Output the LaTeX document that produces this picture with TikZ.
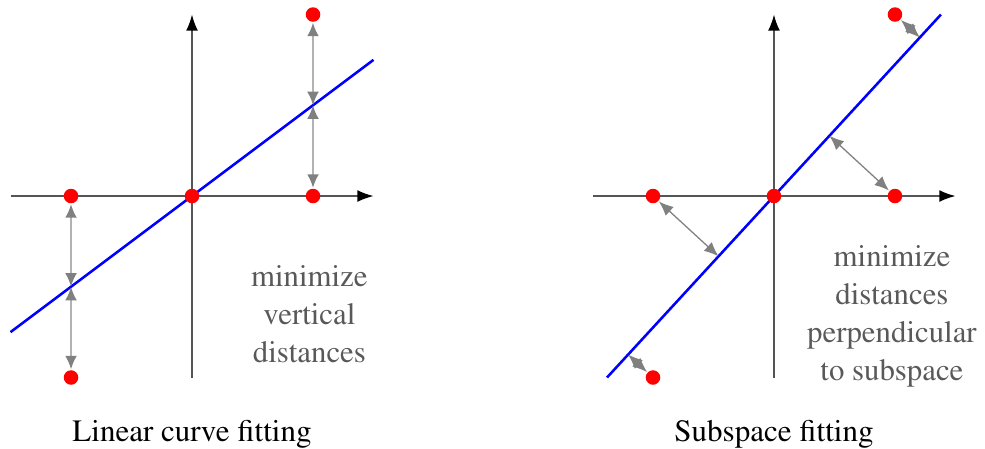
\documentclass[tikz,border=0pt]{standalone}
\usepackage[T1]{fontenc}
\usepackage{times}
\usetikzlibrary{arrows.meta,calc}
\definecolor{txtgray}{HTML}{595959}
\definecolor{axgray}{HTML}{555555}
\begin{document}
\begin{tikzpicture}[
  pt/.style={circle,fill=red,inner sep=0pt,minimum size=0.12cm},
  axisline/.style={draw=axgray,line width=0.35pt,-{Latex[length=3.8pt,width=2.8pt,color=black]}},
  fitline/.style={draw=blue,line width=0.6pt},
  vdist/.style={draw=gray!60,line width=0.5pt,{Latex[length=3.2pt,width=2.8pt,color=gray]}-{Latex[length=3.2pt,width=2.8pt,color=gray]}},
  pdist/.style={draw=gray,line width=0.3pt,{Latex[length=3.4pt,width=2.8pt,color=gray]}-{Latex[length=3.4pt,width=2.8pt,color=gray]}},
  note/.style={text=txtgray,align=center,font=\rmfamily\fontsize{7.25}{8.9}\selectfont},
  captiontext/.style={anchor=base,font=\rmfamily\fontsize{7.3}{9}\selectfont}
]
\useasboundingbox (-1.587,-2.083) rectangle (6.554,1.62);

% ---------- Left: linear curve fitting ----------
\begin{scope}
  \coordinate (lxs) at (-1.5,0);
  \coordinate (lxe) at (1.5,0);
  \coordinate (lys) at (0,-1.5);
  \coordinate (lye) at (0,1.5);
  \draw[axisline] (lxs) -- (lxe);
  \draw[axisline] (lys) -- (lye);
  \coordinate (la) at (-1.5,-1.125);
  \coordinate (lb) at (1.5,1.125);
  \draw[fitline] (la) -- (lb);
  \coordinate (lf1) at (1,0.75);
  \coordinate (lf2) at (-1,-0.75);
  \node[pt] (lp1) at (1,1.5) {};
  \node[pt] (lp2) at (1,0) {};
  \node[pt] (lp3) at (0,0) {};
  \node[pt] (lp4) at (-1,0) {};
  \node[pt] (lp5) at (-1,-1.5) {};
  \draw[vdist] (lp1) -- (lf1);
  \draw[vdist] (lp2) -- (lf1);
  \draw[vdist] (lp4) -- (lf2);
  \draw[vdist] (lp5) -- (lf2);
  \node[note] (lnote) at (0.97,-0.975) {minimize\\vertical\\distances};
  \node[captiontext] (lcap) at (0,-2.03) {Linear curve fitting};
\end{scope}

% ---------- Right: subspace fitting ----------
\begin{scope}[xshift=4.81cm]
  \coordinate (rxs) at (-1.5,0);
  \coordinate (rxe) at (1.5,0);
  \coordinate (rys) at (0,-1.5);
  \coordinate (rye) at (0,1.5);
  \draw[axisline] (rxs) -- (rxe);
  \draw[axisline] (rys) -- (rye);
  \coordinate (ra) at (-1.380,-1.5);
  \coordinate (rb) at (1.380,1.5);
  \draw[fitline] (ra) -- (rb);
  \node[pt] (rp1) at (1,1.5) {};
  \node[pt] (rp2) at (1,0) {};
  \node[pt] (rp3) at (0,0) {};
  \node[pt] (rp4) at (-1,0) {};
  \node[pt] (rp5) at (-1,-1.5) {};
  \coordinate (rf1) at ($(ra)!(rp1.center)!(rb)$);
  \coordinate (rf2) at ($(ra)!(rp2.center)!(rb)$);
  \coordinate (rf4) at ($(ra)!(rp4.center)!(rb)$);
  \coordinate (rf5) at ($(ra)!(rp5.center)!(rb)$);
  \draw[pdist] (rp1) -- (rf1);
  \draw[pdist] (rp2) -- (rf2);
  \draw[pdist] (rp4) -- (rf4);
  \draw[pdist] (rp5) -- (rf5);
  \node[note] (rnote) at (0.975,-0.996) {minimize\\distances\\perpendicular\\to subspace};
  \node[captiontext] (rcap) at (0,-2.03) {Subspace fitting};
\end{scope}
\end{tikzpicture}
\end{document}
